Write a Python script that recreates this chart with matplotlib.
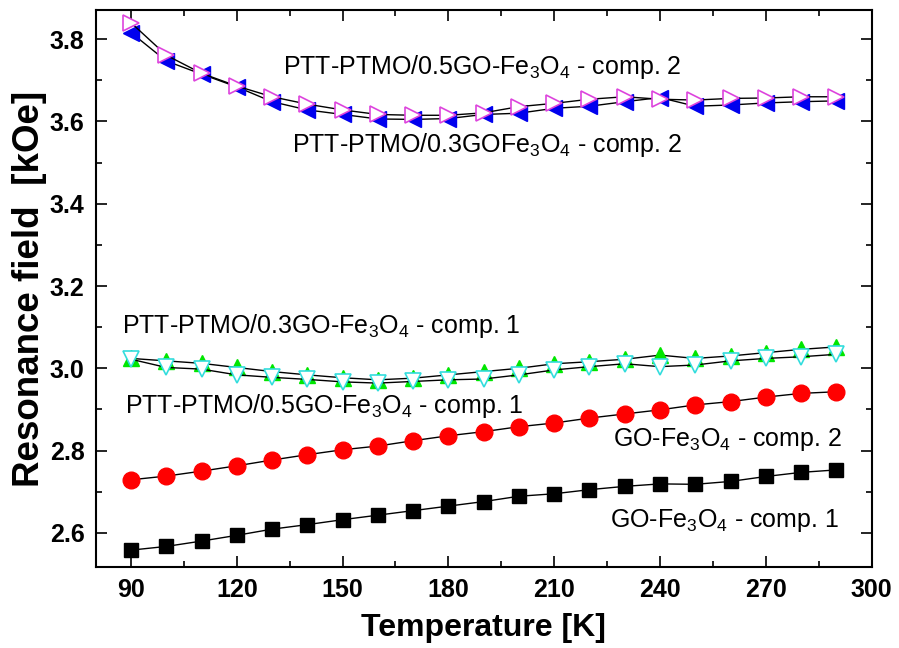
import matplotlib
matplotlib.use("Agg")
import matplotlib.pyplot as plt
from matplotlib.ticker import MultipleLocator

plt.rcParams['font.family'] = ['Liberation Sans', 'DejaVu Sans']
plt.rcParams['mathtext.fontset'] = 'custom'
plt.rcParams['mathtext.rm'] = 'Liberation Sans'

# temperature points [K]
temp = [90, 100, 110, 120, 130, 140, 150, 160, 170, 180, 190,
        200, 210, 220, 230, 240, 250, 260, 270, 280, 290]

# GO-Fe3O4 comp. 1 / comp. 2
go_c1 = [2.558, 2.567, 2.580, 2.594, 2.609, 2.620, 2.632, 2.643, 2.654, 2.665, 2.676,
         2.689, 2.695, 2.705, 2.713, 2.719, 2.718, 2.725, 2.737, 2.747, 2.753]
go_c2 = [2.729, 2.738, 2.750, 2.763, 2.777, 2.790, 2.802, 2.811, 2.824, 2.836, 2.846,
         2.858, 2.867, 2.879, 2.889, 2.899, 2.911, 2.919, 2.930, 2.939, 2.943]

# PTT-PTMO/0.3GO comp. 1 (green) and 0.5GO comp. 1 (cyan)
p03_c1 = [3.024, 3.018, 3.012, 3.002, 2.992, 2.984, 2.977, 2.972, 2.976, 2.984, 2.992,
          3.000, 3.011, 3.016, 3.022, 3.032, 3.024, 3.030, 3.038, 3.046, 3.052]
p05_c1 = [3.022, 3.002, 2.998, 2.984, 2.978, 2.973, 2.967, 2.964, 2.968, 2.972, 2.974,
          2.984, 2.996, 3.004, 3.011, 3.004, 3.008, 3.018, 3.024, 3.028, 3.034]

# PTT-PTMO/0.5GO comp. 2 (magenta) and 0.3GO comp. 2 (blue)
p05_c2 = [3.840, 3.761, 3.717, 3.686, 3.660, 3.642, 3.628, 3.617, 3.615, 3.615, 3.621,
          3.636, 3.644, 3.654, 3.660, 3.654, 3.652, 3.656, 3.657, 3.660, 3.660]
p03_c2 = [3.816, 3.747, 3.715, 3.684, 3.648, 3.628, 3.617, 3.606, 3.605, 3.607, 3.617,
          3.620, 3.632, 3.637, 3.648, 3.658, 3.637, 3.640, 3.645, 3.648, 3.650]

fig = plt.figure(figsize=(8.99, 6.48), dpi=100)
ax = fig.add_axes([0.1065, 0.125, 0.863, 0.859])

lk = dict(color='black', lw=1.0)
ax.plot(temp, go_c1, marker='s', ms=10, mfc='black', mec='black', **lk)
ax.plot(temp, go_c2, marker='o', ms=12, mfc='#ff0000', mec='#ff0000', **lk)
ax.plot(temp, p03_c1, marker='^', ms=11, mfc='#00e600', mec='#00e600', **lk)
ax.plot(temp, p05_c1, marker='v', ms=12, mfc='white', mec='#33dddd', mew=1.2, **lk)
ax.plot(temp, p03_c2, marker='<', ms=11, mfc='#0000ee', mec='#0000ee', **lk)
ax.plot(temp, p05_c2, marker='>', ms=12, mfc='white', mec='#dd44dd', mew=1.2, **lk)

fs = 18
ax.text(133, 3.715, 'PTT-PTMO/0.5GO-Fe$_3$O$_4$ - comp. 2', fontsize=fs, va='baseline')
ax.text(135.7, 3.5255, 'PTT-PTMO/0.3GOFe$_3$O$_4$ - comp. 2', fontsize=fs, va='baseline')
ax.text(87.5, 3.086, 'PTT-PTMO/0.3GO-Fe$_3$O$_4$ - comp. 1', fontsize=fs, va='baseline')
ax.text(88.4, 2.892, 'PTT-PTMO/0.5GO-Fe$_3$O$_4$ - comp. 1', fontsize=fs, va='baseline')
ax.text(291.6, 2.810, 'GO-Fe$_3$O$_4$ - comp. 2', fontsize=fs, va='baseline', ha='right')
ax.text(290.7, 2.615, 'GO-Fe$_3$O$_4$ - comp. 1', fontsize=fs, va='baseline', ha='right')

ax.set_xlim(80, 300)
ax.set_ylim(2.517, 3.87)
ax.xaxis.set_major_locator(MultipleLocator(30))
ax.xaxis.set_minor_locator(MultipleLocator(15))
ax.yaxis.set_major_locator(MultipleLocator(0.2))
ax.yaxis.set_minor_locator(MultipleLocator(0.1))
ax.set_xticks(range(90, 301, 30))
ax.tick_params(which='both', direction='in', top=True, right=True, width=1.2)
ax.tick_params(which='major', length=8, labelsize=18, pad=8)
ax.tick_params(which='minor', length=4)
for lab in ax.get_xticklabels() + ax.get_yticklabels():
    lab.set_fontweight('bold')
for s in ax.spines.values():
    s.set_linewidth(1.5)

ax.set_xlabel('Temperature [K]', fontsize=23, fontweight='bold', labelpad=8)
ax.set_ylabel('Resonance field  [kOe]', fontsize=26.5, fontweight='bold', labelpad=2)

fig.savefig('out.png', dpi=100)
